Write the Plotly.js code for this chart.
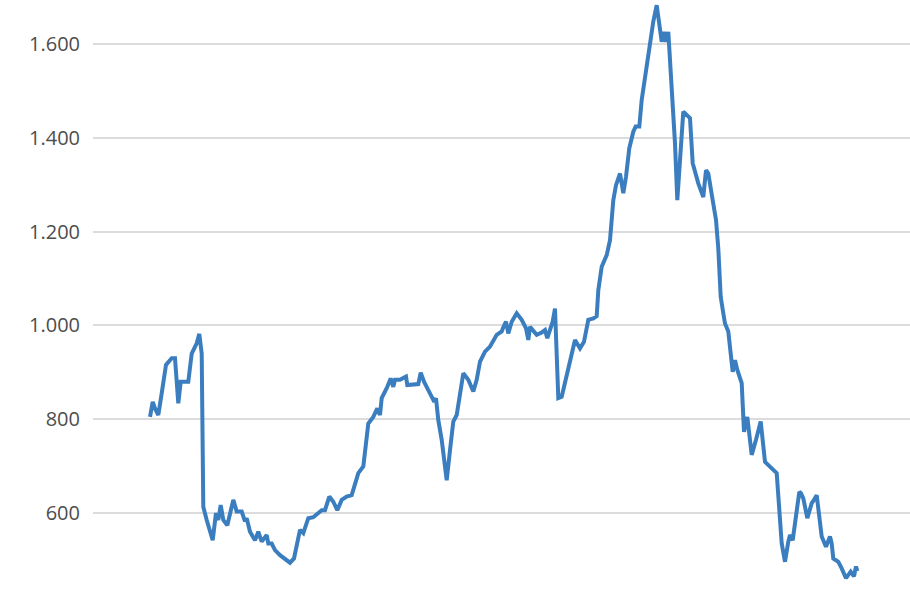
<!DOCTYPE html>
<html>
<head>
<meta charset="utf-8">
<script src="https://cdn.plot.ly/plotly-3.0.1.min.js"></script>
<style>html,body{margin:0;padding:0;background:#fff;}#chart{width:910px;height:596px;}</style>
</head>
<body>
<div id="chart"></div>
<script>
// time step (relative index) and price values
const t = [0,2.7,5,8.3,11.7,16,21.7,25,28.3,30.7,38.3,41.7,46.7,49.3,51.7,53.3,56.7,62.7,66,68.3,70.7,73.3,77.3,83.3,86.7,91.7,95,96.7,100,105,108.3,111.7,116.7,118.3,121.7,125,130,136.7,140,144,146.7,150,153.3,158.3,163.3,171.7,175,179.3,183.3,187.3,191.7,196.7,201.7,205,208.3,213.3,216.7,218.3,223.3,227.3,230,231.7,236.7,240.7,243.3,245,250,256,257.3,263.3,268.3,270.7,274,278.3,281.7,284.3,286,288.3,291.7,296.7,300,303.3,306.7,310,313.3,318.3,323.3,326.7,330,335,340,346.7,351.7,353.3,356,358.3,361.7,366.7,371.7,376,378.3,380,386.7,391.7,395,397.3,402.7,405,406,408.3,411.7,416,420,422.3,425,430,434,438.3,443.3,446.7,448.3,451.7,456.7,460,463.3,466,470,473.3,476,479.3,483.3,485.7,489.3,491.7,495,498.3,500.7,503.3,506.7,509,511.7,514,516,518.3,521.7,525,527.3,530.7,533.3,540,542.7,548.3,553.3,556,558.3,562.7,566,568.3,570.7,573.3,575,578.3,581.7,582.7,585,587.3,591.7,594,597.3,601.7,606,610.7,615,622.7,626.7,631.7,635,638.3,640,642.7,649.3,651,653.3,657.3,661.7,664,666.7,671.7,676,680,681.7,683.3,688.3,691.7,696,700.7,704,706,707.3,710,712];
const price = [805,837,823,809,855,916,930,930,834,880,880,940,962,982,940,613,585,542,600,585,617,585,574,628,603,603,582,589,560,542,560,539,553,535,535,521,510,500,494,503,528,564,557,589,591,606,606,635,624,606,628,635,638,663,685,699,770,791,805,823,809,845,866,887,869,884,884,891,873,875,875,899,880,862,845,837,845,798,756,670,734,795,809,848,898,884,859,884,923,944,955,980,987,996,1008,983,1008,1026,1012,994,969,997,980,985,990,973,1008,1036,965,845,848,887,919,944,969,951,965,1012,1015,1020,1075,1125,1150,1182,1267,1299,1324,1282,1317,1378,1413,1424,1424,1481,1530,1569,1619,1648,1683,1651,1605,1626,1605,1626,1509,1388,1267,1367,1456,1442,1346,1303,1274,1331,1324,1267,1225,1164,1061,1026,1004,987,919,901,926,905,877,773,805,724,756,795,709,692,685,535,496,539,553,542,645,642,631,589,621,628,638,550,528,550,535,503,496,482,461,475,465,486,476];
const yTicks = [600,800,1000,1200,1400,1600];

Plotly.newPlot('chart', [{
  x: t, y: price, type: 'scatter', mode: 'lines',
  line: {color: '#3a7ebf', width: 4, shape: 'linear'},
  hoverinfo: 'skip'
}], {
  width: 910, height: 596,
  margin: {l: 93, r: 0, t: 0, b: 0, pad: 0},
  paper_bgcolor: '#ffffff', plot_bgcolor: '#ffffff',
  separators: ',.',
  showlegend: false,
  xaxis: {range: [-57, 760], showgrid: false, zeroline: false, showticklabels: false, showline: false, ticks: ''},
  yaxis: {
    range: [423, 1694], tickvals: yTicks, tickformat: ',d',
    showgrid: true, gridcolor: '#dcdcdc', gridwidth: 2,
    zeroline: false, showline: false, ticks: '',
    ticklabelstandoff: 12,
    tickfont: {family: 'Open Sans, Arial, sans-serif', size: 20, color: '#4d4d4d'}
  }
}, {staticPlot: true, displayModeBar: false});
</script>
</body>
</html>
